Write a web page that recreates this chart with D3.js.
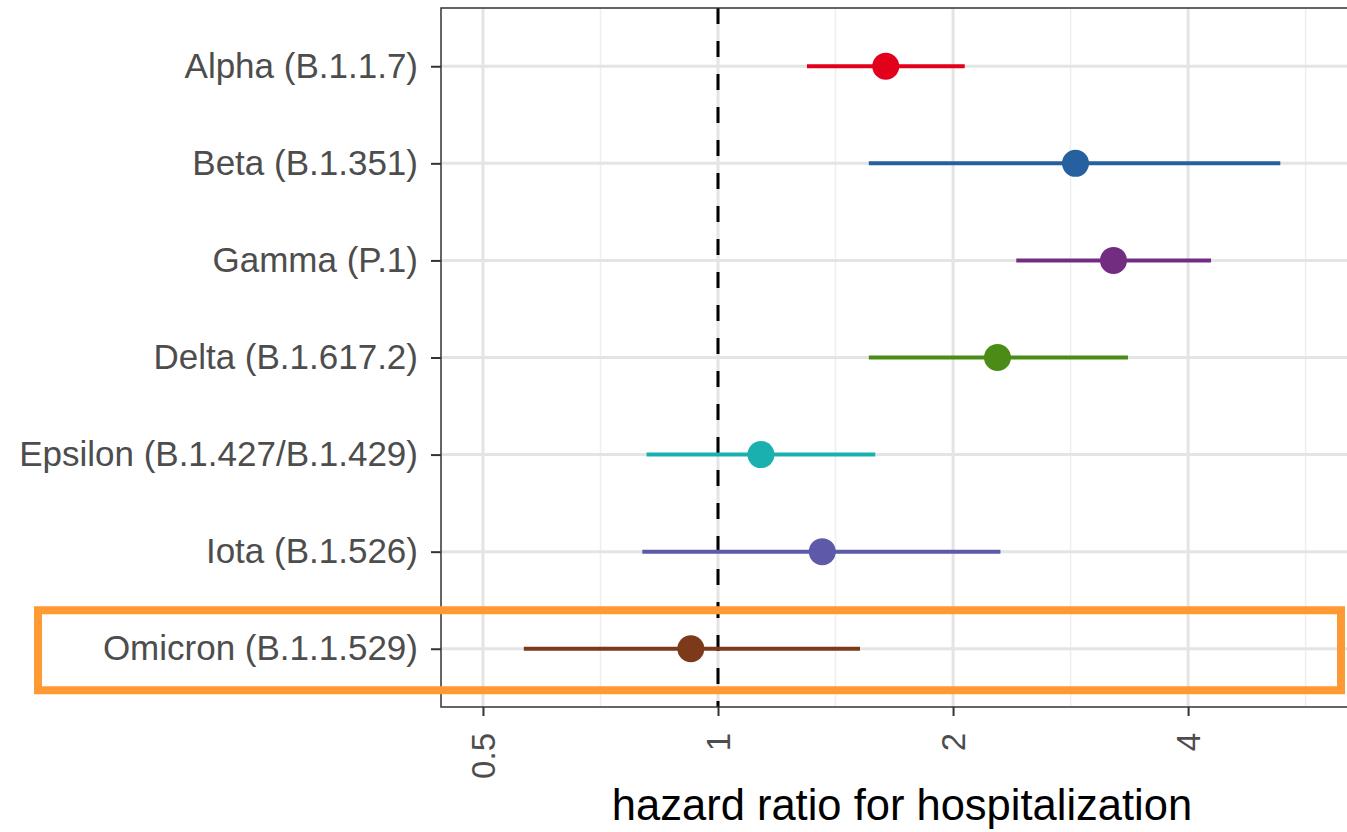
<!DOCTYPE html>
<meta charset="utf-8">
<script src="https://d3js.org/d3.v7.min.js"></script>
<style>
  body { margin: 0; background: #fff; }
  text { font-family: "Liberation Sans", Arial, sans-serif; }
</style>
<div id="chart"></div>
<script>

// variants, top to bottom
const variants = ["Alpha (B.1.1.7)", "Beta (B.1.351)", "Gamma (P.1)", "Delta (B.1.617.2)",
                  "Epsilon (B.1.427/B.1.429)", "Iota (B.1.526)", "Omicron (B.1.1.529)"];
// hazard ratio estimates and 95% intervals
const hr    = [1.64, 2.87, 3.21, 2.28, 1.135, 1.36, 0.923];
const lower = [1.30, 1.56, 2.41, 1.56, 0.81, 0.80, 0.564];
const upper = [2.07, 5.25, 4.28, 3.35, 1.59, 2.30, 1.52];
const colors = ["#e3001b", "#26609f", "#722d83", "#4b8c16", "#1ab0b0", "#5e5aaa", "#7d3a1a"];
const xTicks = [0.5, 1, 2, 4];
const xMinor = [0.7071, 1.4142, 2.8284, 5.6569];
const highlight = "Omicron (B.1.1.529)";

const W = 1347, H = 832;
const margin = {top: 8, right: -16, bottom: 125, left: 441};
const width = W - margin.left - margin.right,
      height = H - margin.top - margin.bottom;

const svg = d3.select("#chart").append("svg")
    .attr("width", W).attr("height", H);

const g = svg.append("g")
    .attr("transform", `translate(${margin.left},${margin.top})`);

const x = d3.scaleLog()
    .domain([0.4418, 6.70])
    .range([0, width]);

const y = d3.scalePoint()
    .domain(variants)
    .range([0, height])
    .padding(0.6);

// grid
g.selectAll(".minor").data(xMinor).join("line")
    .attr("x1", d => x(d)).attr("x2", d => x(d))
    .attr("y1", 0).attr("y2", height)
    .attr("stroke", "#eeeeee").attr("stroke-width", 1.5);
g.selectAll(".vmajor").data(xTicks).join("line")
    .attr("x1", d => x(d)).attr("x2", d => x(d))
    .attr("y1", 0).attr("y2", height)
    .attr("stroke", "#e4e4e4").attr("stroke-width", 3);
g.selectAll(".hmajor").data(variants).join("line")
    .attr("x1", 0).attr("x2", width)
    .attr("y1", d => y(d)).attr("y2", d => y(d))
    .attr("stroke", "#e4e4e4").attr("stroke-width", 3);

// reference line at HR = 1
g.append("line")
    .attr("x1", x(1)).attr("x2", x(1))
    .attr("y1", 0).attr("y2", height)
    .attr("stroke", "#000").attr("stroke-width", 3)
    .attr("stroke-dasharray", "16,17");

// intervals and points
g.selectAll(".ci").data(variants).join("line")
    .attr("x1", (d, i) => x(lower[i])).attr("x2", (d, i) => x(upper[i]))
    .attr("y1", d => y(d)).attr("y2", d => y(d))
    .attr("stroke", (d, i) => colors[i]).attr("stroke-width", 4);
g.selectAll(".pt").data(variants).join("circle")
    .attr("cx", (d, i) => x(hr[i]))
    .attr("cy", d => y(d))
    .attr("r", 13.5)
    .attr("fill", (d, i) => colors[i]);

// panel border
g.append("rect")
    .attr("width", width).attr("height", height)
    .attr("fill", "none").attr("stroke", "#333").attr("stroke-width", 1.5);

// y axis
const yAxis = g.append("g")
    .call(d3.axisLeft(y).tickSize(10).tickPadding(13));
yAxis.select(".domain").remove();
yAxis.selectAll(".tick line").attr("stroke", "#333").attr("stroke-width", 2);
yAxis.selectAll("text")
    .attr("fill", "#4d4d4d").style("font-size", "35px");

// x axis
const xAxis = g.append("g")
    .attr("transform", `translate(0,${height})`)
    .call(d3.axisBottom(x).tickValues(xTicks).tickFormat(d3.format("")).tickSize(9));
xAxis.select(".domain").remove();
xAxis.selectAll(".tick line").attr("stroke", "#333").attr("stroke-width", 2);
xAxis.selectAll("text")
    .attr("fill", "#4d4d4d").style("font-size", "33px")
    .attr("text-anchor", "end")
    .attr("transform", "rotate(-90)")
    .attr("x", -26).attr("y", 0).attr("dy", "0.35em");

// x axis title
svg.append("text")
    .attr("x", margin.left + width / 2)
    .attr("y", 820)
    .attr("text-anchor", "middle")
    .style("font-size", "43.5px")
    .attr("fill", "#000")
    .text("hazard ratio for hospitalization");

// highlight box around Omicron row
const yh = margin.top + y(highlight);
svg.append("rect")
    .attr("x", 38).attr("y", yh - 38.5)
    .attr("width", 1303).attr("height", 80)
    .attr("fill", "none")
    .attr("stroke", "#ff9933").attr("stroke-width", 8);

</script>
